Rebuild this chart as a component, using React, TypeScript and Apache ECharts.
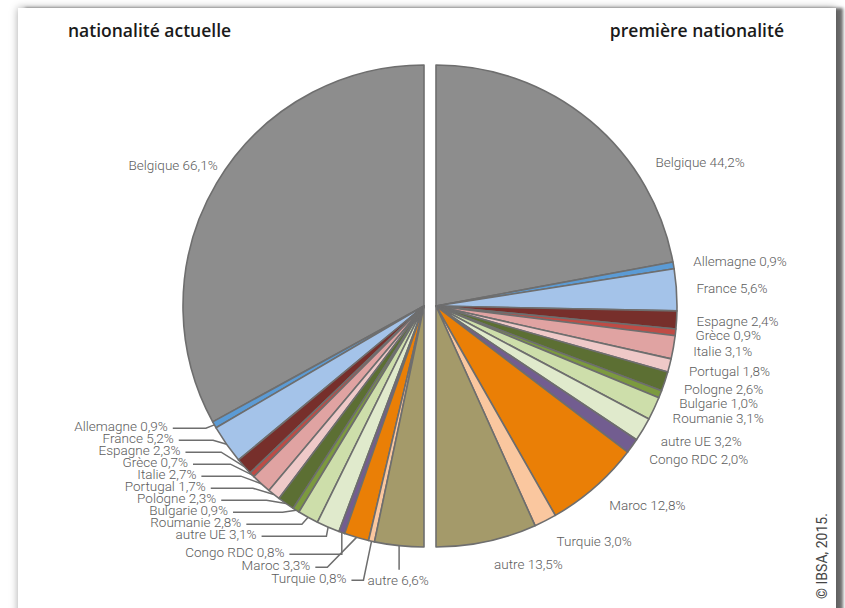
import React, { useEffect, useRef } from 'react';
import * as echarts from 'echarts';

// ---------- data ----------
const categories = [
  'Belgique', 'Allemagne', 'France', 'Espagne', 'Grèce', 'Italie', 'Portugal',
  'Pologne', 'Bulgarie', 'Roumanie', 'autre UE', 'Congo RDC', 'Maroc', 'Turquie', 'autre',
];
const currentNationality = [66.1, 0.9, 5.2, 2.3, 0.7, 2.7, 1.7, 2.3, 0.9, 2.8, 3.1, 0.8, 3.3, 0.8, 6.6];
const firstNationality = [44.2, 0.9, 5.6, 2.4, 0.9, 3.1, 1.8, 2.6, 1.0, 3.1, 3.2, 2.0, 12.8, 3.0, 13.5];
const sliceColors = [
  '#8d8d8d', '#5b9bd5', '#a4c3e9', '#772f2b', '#bf4b45', '#e0a3a2', '#efc9c8',
  '#5c6f33', '#7c9a3f', '#cddeaa', '#e0eacc', '#725d90', '#ea7f06', '#fac79f', '#a49a6a',
];
const titles = ['nationalité actuelle', 'première nationalité'];
const copyright = '© IBSA, 2015.';

// ---------- geometry ----------
const W = 845;
const H = 608;
const CY = 306;
const RADIUS = 241;
const LEFT_CX = 424;
const RIGHT_CX = 436;
const LABEL_COLOR = '#5c5c5c';
const LINE_COLOR = '#6e6e6e';
const FONT = 'Roboto';

const rad = (d: number) => (d * Math.PI) / 180;

function midAngles(values: number[]): number[] {
  const total = values.reduce((a, b) => a + b, 0);
  let acc = 0;
  return values.map((v) => {
    const m = ((acc + v / 2) / total) * 180;
    acc += v;
    return m;
  });
}

// pool-adjacent-violators: keep labels at least gaps[i] apart with minimal displacement
function spread(targets: number[], gaps: number[]): number[] {
  const offs: number[] = [];
  let acc = 0;
  gaps.forEach((g, i) => {
    acc += i === 0 ? 0 : g;
    offs.push(acc);
  });
  const blocks: { start: number; count: number; sum: number }[] = [];
  targets.forEach((t, i) => {
    blocks.push({ start: i, count: 1, sum: t - offs[i] });
    while (blocks.length > 1) {
      const b = blocks[blocks.length - 1];
      const a = blocks[blocks.length - 2];
      if (a.sum / a.count > b.sum / b.count) {
        a.count += b.count;
        a.sum += b.sum;
        blocks.pop();
      } else break;
    }
  });
  const out: number[] = [];
  blocks.forEach((b) => {
    const base = b.sum / b.count;
    for (let k = 0; k < b.count; k++) out.push(base + offs[b.start + k]);
  });
  return out;
}

type LabelPos = { x: number; y: number; align: string; points?: number[][] };

function rightLayout(values: number[]): LabelPos[] {
  const mids = midAngles(values);
  let prevY = -Infinity;
  return mids.map((m, i) => {
    const a = i === 0 ? 57 : m;
    const s = Math.sin(rad(a));
    const c = Math.cos(rad(a));
    const px = RIGHT_CX + RADIUS * s;
    const py = CY - RADIUS * c;
    let y = py - 23 * c;
    if (i > 0) y = Math.max(y, prevY + 13);
    prevY = y;
    return { x: px + 4 + 16 * s, y, align: 'left' };
  });
}

function leftLayout(values: number[]): LabelPos[] {
  const mids = midAngles(values);
  const pts = mids.map((m) => {
    const s = Math.sin(rad(m));
    const c = Math.cos(rad(m));
    return [LEFT_CX - RADIUS * s, CY - RADIUS * c];
  });
  const res: LabelPos[] = new Array(values.length);
  res[0] = { x: pts[0][0] + 1, y: pts[0][1] - 18, align: 'right' };
  const stacked: number[] = [];
  for (let i = 1; i < values.length; i++) {
    if (mids[i] > 170) {
      const [px, py] = pts[i];
      res[i] = { x: px - 1, y: py + 34, align: 'center', points: [[px, py], [px, py + 24]] };
    } else stacked.push(i);
  }
  // labels under the pie (angle > 158°) get a wider spacing than those on its side
  let bottomSeen = false;
  const gaps = stacked.map((i) => {
    if (mids[i] > 158) {
      const g = bottomSeen ? 13 : 18;
      bottomSeen = true;
      return g;
    }
    return 12;
  });
  const ys = spread(stacked.map((i) => pts[i][1] + 3), gaps);
  stacked.forEach((i, k) => {
    const y = ys[k];
    const dy = Math.min(Math.abs(y - CY), 282);
    const xEnd = LEFT_CX - Math.sqrt(283 * 283 - dy * dy);
    const lineY = y + 2;
    const ex = xEnd + 5;
    const ldy = Math.abs(lineY - CY);
    const circleX = ldy < RADIUS + 9 ? LEFT_CX - Math.sqrt((RADIUS + 9) ** 2 - ldy * ldy) : -Infinity;
    const [px, py] = pts[i];
    const bx = Math.min(Math.max(ex + 12, circleX), px);
    res[i] = { x: xEnd, y, align: 'right', points: [[px, py], [bx, lineY], [ex, lineY]] };
  });
  return res;
}

const fmt = (v: number) => v.toFixed(1).replace('.', ',') + '%';

export default function App() {
  const ref = useRef<HTMLDivElement>(null);

  useEffect(() => {
    if (!ref.current) return;
    const chart = echarts.init(ref.current, undefined, { renderer: 'svg' });
    const layouts = [leftLayout(currentNationality), rightLayout(firstNationality)];

    const makeData = (values: number[], withLines: boolean) =>
      categories.map((name, i) => ({
        name,
        value: values[i],
        itemStyle: { color: sliceColors[i] },
        labelLine: { show: withLines && i !== 0 },
      }));

    const baseSeries = {
      type: 'pie',
      radius: RADIUS,
      startAngle: 90,
      avoidLabelOverlap: false,
      minShowLabelAngle: 0,
      silent: true,
      emphasis: { disabled: true },
      itemStyle: { borderColor: LINE_COLOR, borderWidth: 1.6 },
      label: {
        show: true,
        position: 'outside',
        color: LABEL_COLOR,
        fontSize: 13.5,
        lineHeight: 11,
        fontFamily: FONT,
        fontWeight: 300,
        overflow: 'none',
        formatter: (p: any) => `${p.name} ${fmt(p.value)}`,
      },
      labelLayout: (p: any) => {
        const l = layouts[p.seriesIndex][p.dataIndex];
        const o: any = { x: l.x, y: l.y, align: l.align, verticalAlign: 'middle' };
        if (l.points) o.labelLinePoints = l.points;
        return o;
      },
    };

    const titleStyle = { fontSize: 17.5, fontWeight: 600, color: '#1a1a1a', fontFamily: 'Open Sans' };

    chart.setOption({
      animation: false,
      title: [
        { text: titles[0], left: 68, top: 21, padding: 0, textStyle: titleStyle },
        { text: titles[1], right: W - 784, top: 21, padding: 0, textStyle: titleStyle },
      ],
      graphic: [
        {
          type: 'text',
          x: 822,
          y: 556,
          rotation: Math.PI / 2,
          style: {
            text: copyright,
            fill: '#444',
            font: `14px ${FONT}`,
            align: 'center',
            verticalAlign: 'middle',
          },
        },
      ],
      series: [
        {
          ...baseSeries,
          name: titles[0],
          center: [LEFT_CX, CY],
          endAngle: 270,
          clockwise: false,
          labelLine: { show: true, length: 10, length2: 10, lineStyle: { color: LINE_COLOR, width: 1.5 } },
          data: makeData(currentNationality, true),
        },
        {
          ...baseSeries,
          name: titles[1],
          center: [RIGHT_CX, CY],
          endAngle: -90,
          clockwise: true,
          labelLine: { show: false },
          data: makeData(firstNationality, false),
        },
      ],
    } as any);

    return () => chart.dispose();
  }, []);

  return (
    <div style={{ position: 'fixed', left: 0, top: 0, width: W, height: H, background: '#fff', overflow: 'hidden' }}>
      <div
        style={{
          position: 'absolute',
          left: 18,
          top: 8,
          width: 818,
          height: 660,
          background: '#fff',
          boxShadow: '0 0 8px rgba(0,0,0,0.35), 7px 0 3px rgba(0,0,0,0.55)',
        }}
      />
      <div ref={ref} style={{ position: 'absolute', left: 0, top: 0, width: W, height: H }} />
    </div>
  );
}
